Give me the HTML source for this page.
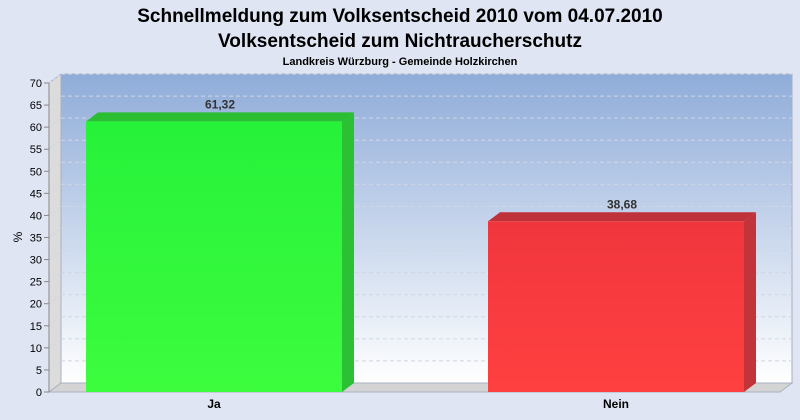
<!DOCTYPE html>
<html><head><meta charset="utf-8"><style>
html,body{margin:0;background:#dfe5f3;overflow:hidden;width:800px;height:420px;}
svg{display:block;}
text{font-family:"Liberation Sans",sans-serif;}
</style></head><body>
<svg width="800" height="420" viewBox="0 0 800 420">
<defs>
<linearGradient id="bg" x1="0" y1="0" x2="0" y2="1"><stop offset="0" stop-color="#8facd9"/><stop offset="1" stop-color="#ffffff"/></linearGradient>
<linearGradient id="gG" x1="0" y1="0" x2="0" y2="1"><stop offset="0" stop-color="#26f23a"/><stop offset="1" stop-color="#3dfc3e"/></linearGradient>
<linearGradient id="gR" x1="0" y1="0" x2="0" y2="1"><stop offset="0" stop-color="#f0363d"/><stop offset="1" stop-color="#ff4040"/></linearGradient>
</defs>
<rect width="800" height="420" fill="#dfe5f3"/>
<text x="400" y="22" text-anchor="middle" font-size="19" font-weight="bold">Schnellmeldung zum Volksentscheid 2010 vom 04.07.2010</text>
<text x="400" y="47" text-anchor="middle" font-size="19" font-weight="bold">Volksentscheid zum Nichtraucherschutz</text>
<text x="400" y="65" text-anchor="middle" font-size="11" font-weight="bold">Landkreis Würzburg - Gemeinde Holzkirchen</text>
<g id="plot"></g>
<text x="22" y="237" font-size="12" transform="rotate(-90 22 237)" text-anchor="middle">%</text>
</svg>
<script>
const categories=["Ja","Nein"];
const values=[61.32,38.68];
const valueLabels=["61,32","38,68"];
const colors=["url(#gG)","url(#gR)"];
const sideColors=["#2cc034","#c0343a"];
const topColors=["#2bbd32","#c0323a"];
const ticks=[0,5,10,15,20,25,30,35,40,45,50,55,60,65,70];
const NS="http://www.w3.org/2000/svg";
const g=document.getElementById('plot');
const x0=49,y0=392,dx=12,dy=-9,xEnd=780,ymax=70,plotH=309;
const bandStart=13,slot=402,bw=256;
const y=v=>y0-v/ymax*plotH;
function el(t,a,p){const e=document.createElementNS(NS,t);for(const k in a)e.setAttribute(k,a[k]);(p||g).appendChild(e);return e;}
let w=el('rect',{x:x0+dx,y:y(70)+dy,width:xEnd-x0,height:plotH,fill:'url(#bg)',stroke:'#a8afc0'});

let lw=el('polygon',{points:`${x0},${y0} ${x0+dx},${y0+dy} ${x0+dx},${y(70)+dy} ${x0},${y(70)}`,fill:'#dcdcdc',stroke:'#a8afc0'});

let fl=el('polygon',{points:`${x0},${y0} ${x0+dx},${y0+dy} ${xEnd+dx},${y0+dy} ${xEnd},${y0}`,fill:'#d4d4d4',stroke:'#a8afc0'});

ticks.forEach(t=>{
 if(t>0){let l=el('line',{x1:x0+dx,x2:xEnd+dx,y1:y(t)+dy,y2:y(t)+dy,stroke:'#d0d6e2','stroke-dasharray':'4,3'});
 
 let d=el('line',{x1:x0,x2:x0+dx,y1:y(t),y2:y(t)+dy,stroke:'#d0d6e2','stroke-dasharray':'3,2'});
 }
 let tk=el('line',{x1:x0-5,x2:x0,y1:y(t),y2:y(t),stroke:'#888'});
 
 let tx=el('text',{x:x0-7,y:y(t)+4,'text-anchor':'end','font-size':'11'});tx.textContent=t;
 
});
let ax=el('line',{x1:x0,x2:x0,y1:y0,y2:y(70),stroke:'#888'});

categories.forEach((c,i)=>{
 const cx=bandStart+slot*(i+0.5), bx=cx-bw/2, by=y(values[i]);
 const grp=el('g',{});
 el('polygon',{points:`${bx+bw},${y0} ${bx+bw+dx},${y0+dy} ${bx+bw+dx},${by+dy} ${bx+bw},${by}`,fill:sideColors[i]},grp);
 el('polygon',{points:`${bx},${by} ${bx+dx},${by+dy} ${bx+bw+dx},${by+dy} ${bx+bw},${by}`,fill:topColors[i]},grp);
 el('rect',{x:bx,y:by,width:bw,height:y0-by,fill:colors[i]},grp);
 let vl=el('text',{x:cx+dx/2,y:by+dy-4,'text-anchor':'middle','font-size':'12','font-weight':'bold',fill:'#333'});vl.textContent=valueLabels[i];
 
 let cl=el('text',{x:cx,y:408,'text-anchor':'middle','font-size':'12','font-weight':'bold'});cl.textContent=c;
 
});
</script>
</body></html>
